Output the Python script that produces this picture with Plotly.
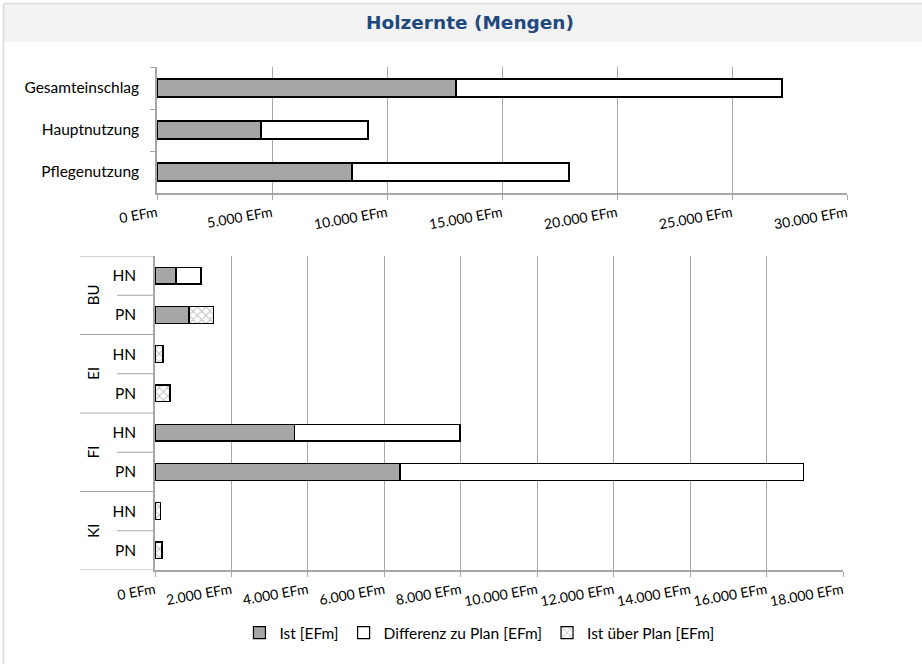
import plotly.graph_objects as go

# ---------------- data ----------------
top_categories = ["Gesamteinschlag", "Hauptnutzung", "Pflegenutzung"]
top_ist = [13000, 4520, 8480]
top_diff = [14170, 4650, 9430]
top_ueber = [0, 0, 0]

groups = ["BU", "BU", "EI", "EI", "FI", "FI", "KI", "KI"]
subs = ["HN", "PN", "HN", "PN", "HN", "PN", "HN", "PN"]
bot_ist = [550, 890, 0, 0, 3645, 6410, 0, 0]
bot_diff = [655, 0, 0, 0, 4335, 10550, 0, 0]
bot_ueber = [0, 630, 210, 390, 0, 0, 150, 185]

top_ticks = [0, 5000, 10000, 15000, 20000, 25000, 30000]
bot_ticks = [0, 2000, 4000, 6000, 8000, 10000, 12000, 14000, 16000, 18000]

series_names = ["Ist [EFm]", "Differenz zu Plan [EFm]", "Ist über Plan [EFm]"]

# ---------------- helpers ----------------
W, H = 922, 664
def px_x(p):
    return p / W
def px_y(p):
    return 1 - p / H

def fmt(v):
    return f"{v:,}".replace(",", ".") + " EFm"

FONT = "Lato"
GRID = "#a6a6a6"
IST_COLOR = "#a6a6a6"

styles = [
    dict(color=IST_COLOR, line=dict(color="black", width=1.2)),
    dict(color="white", line=dict(color="black", width=1.2)),
    dict(color="white", line=dict(color="black", width=1.2),
         pattern=dict(shape="x", fgcolor="#808080", size=6, solidity=0.3)),
]

fig = go.Figure()

bot_pos = list(range(len(subs)))

for i, (name, tv, bv) in enumerate(zip(series_names,
                                       [top_ist, top_diff, top_ueber],
                                       [bot_ist, bot_diff, bot_ueber])):
    fig.add_trace(go.Bar(
        y=top_categories, x=tv, orientation="h", name=name,
        marker=styles[i], xaxis="x", yaxis="y",
        legendgroup=name, showlegend=False, hoverinfo="x+y"))
    fig.add_trace(go.Bar(
        y=bot_pos, x=bv, orientation="h", name=name,
        marker=styles[i], xaxis="x2", yaxis="y2",
        legendgroup=name, showlegend=True, hoverinfo="x"))

shapes = []
# title band and border
shapes.append(dict(type="rect", xref="paper", yref="paper",
                   x0=px_x(4), x1=1, y0=px_y(42), y1=px_y(4),
                   fillcolor="#f2f2f2", line=dict(width=0), layer="below"))
shapes.append(dict(type="line", xref="paper", yref="paper",
                   x0=px_x(4), x1=1, y0=px_y(3.5), y1=px_y(3.5),
                   line=dict(color="#d9d9d9", width=1.5)))
shapes.append(dict(type="line", xref="paper", yref="paper",
                   x0=px_x(3.5), x1=px_x(3.5), y0=0, y1=px_y(3.5),
                   line=dict(color="#d9d9d9", width=1.5)))

# hierarchical category boundaries for the bottom chart
axis_x = px_x(155)
for k in range(len(subs) + 1):
    yb = k - 0.5
    is_group_edge = (k == 0 or k == len(subs) or groups[k] != groups[k - 1])
    x0 = px_x(80) if is_group_edge else px_x(117)
    shapes.append(dict(type="line", xref="paper", yref="y2",
                       x0=x0, x1=axis_x, y0=yb, y1=yb,
                       line=dict(color=GRID, width=1)))

annotations = []
# group labels
seen = []
for g in groups:
    if g not in seen:
        seen.append(g)
for g in seen:
    idx = [i for i, gg in enumerate(groups) if gg == g]
    center = (idx[0] + idx[-1]) / 2
    annotations.append(dict(text=g, xref="paper", yref="y2",
                            x=px_x(93), y=center, showarrow=False,
                            textangle=-90, xanchor="center", yanchor="middle",
                            font=dict(family=FONT, size=15, color="black")))

# title
annotations.append(dict(text="<b>Holzernte (Mengen)</b>", xref="paper", yref="paper",
                        x=px_x(470), y=px_y(23), showarrow=False,
                        xanchor="center", yanchor="middle",
                        font=dict(family="DejaVu Sans", size=18.5, color="#1F497D")))

tickfont = dict(family=FONT, size=15.5, color="black")
xtickfont = dict(family=FONT, size=14, color="black")

fig.update_layout(
    width=W, height=H,
    margin=dict(l=0, r=0, t=0, b=0, pad=0, autoexpand=False),
    paper_bgcolor="white", plot_bgcolor="white",
    barmode="stack", bargap=0.57,
    font=dict(family=FONT, size=14, color="black"),
    showlegend=True,
    legend=dict(orientation="h", x=0.52, xanchor="center",
                y=px_y(633), yanchor="middle",
                font=dict(family=FONT, size=15.5, color="black"),
                itemwidth=30, traceorder="normal"),
    shapes=shapes,
    annotations=annotations,
    xaxis=dict(domain=[px_x(157), px_x(847)], range=[0, 30000], automargin=False,
               anchor="y", tickvals=top_ticks, ticktext=[fmt(v) for v in top_ticks],
               tickangle=-10, showgrid=True, gridcolor=GRID, gridwidth=1,
               showline=True, linecolor=GRID, linewidth=1.5,
               ticks="outside", ticklen=5, tickcolor=GRID,
               zeroline=False, tickfont=xtickfont),
    yaxis=dict(domain=[px_y(193), px_y(67)], anchor="x", automargin=False,
               type="category", categoryorder="array", categoryarray=top_categories,
               autorange="reversed", showline=True, linecolor=GRID, linewidth=1.5,
               ticks="outside", ticklen=5, tickcolor=GRID, tickson="boundaries",
               showgrid=False, ticklabelstandoff=13, tickfont=tickfont),
    xaxis2=dict(domain=[px_x(155), px_x(843)], range=[0, 18000], automargin=False,
                anchor="y2", tickvals=bot_ticks, ticktext=[fmt(v) for v in bot_ticks],
                tickangle=-10, showgrid=True, gridcolor=GRID, gridwidth=1,
                showline=True, linecolor=GRID, linewidth=1.5,
                ticks="outside", ticklen=5, tickcolor=GRID,
                zeroline=False, tickfont=xtickfont),
    yaxis2=dict(domain=[px_y(570), px_y(256)], anchor="x2", automargin=False,
                range=[len(subs) - 0.5, -0.5],
                tickvals=bot_pos, ticktext=subs,
                showline=True, linecolor=GRID, linewidth=1.5,
                ticks="", showgrid=False, zeroline=False,
                ticklabelstandoff=14, tickfont=tickfont),
)

fig.write_html(
    "out.html",
    config={"displayModeBar": False},
    post_script="document.body.style.margin='0';document.body.style.overflow='hidden';",
)
